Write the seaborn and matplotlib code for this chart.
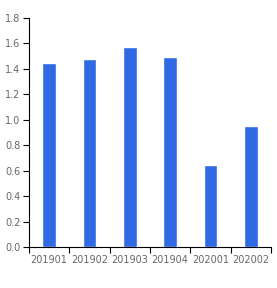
import numpy as np
import pandas as pd
import seaborn as sns
import matplotlib.pyplot as plt
from matplotlib.ticker import MultipleLocator, FormatStrFormatter

quarters = ["201901", "201902", "201903", "201904", "202001", "202002"]
values = [1.45, 1.48, 1.57, 1.49, 0.645, 0.95]

df = pd.DataFrame({"quarter": quarters, "value": values})

sns.set_style("white")
plt.rcParams['font.family'] = ['DejaVu Sans']

fig = plt.figure(figsize=(2.77, 2.88), dpi=100)
ax = fig.add_axes([0.1047, 0.1424, 0.8736, 0.7951])

sns.barplot(data=df, x="quarter", y="value", color="#2f69e3", saturation=1,
            width=0.34, ax=ax)

ax.set_xlim(-0.5, len(quarters) - 0.5)
ax.set_ylim(0, 1.8)
ax.yaxis.set_major_locator(MultipleLocator(0.2))
ax.yaxis.set_major_formatter(FormatStrFormatter("%.1f"))
ax.set_xlabel("")
ax.set_ylabel("")

# category boundary ticks, labels centred without tick marks
ax.set_xticks(np.arange(-0.5, len(quarters)), minor=True)
ax.tick_params(axis="x", which="major", length=0, labelsize=7, colors="#666666", pad=6)
ax.tick_params(axis="x", which="minor", length=4, width=0.8, color="black", bottom=True)
ax.tick_params(axis="y", which="major", length=4, width=0.8, color="black",
               labelsize=7, labelcolor="#666666", pad=2, left=True)

for side in ["top", "right"]:
    ax.spines[side].set_visible(False)
for side in ["left", "bottom"]:
    ax.spines[side].set_color("black")
    ax.spines[side].set_linewidth(0.8)

fig.savefig("out.png", dpi=100)
